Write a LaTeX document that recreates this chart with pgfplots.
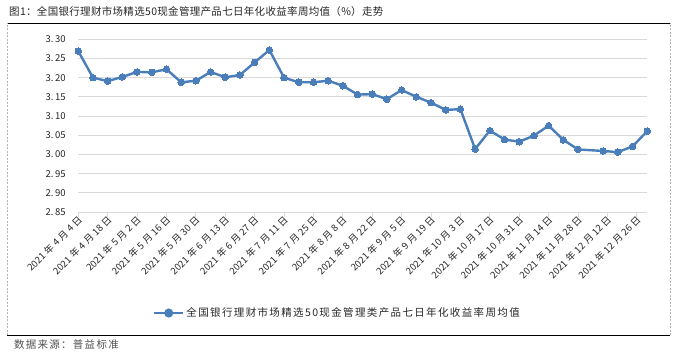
\documentclass[border=0pt]{standalone}
\usepackage{fontspec}
\setmainfont{Noto Sans CJK SC}
\newfontfamily\titlefont[LetterSpace=3]{Noto Sans CJK SC}
\newfontfamily\legfont[LetterSpace=13]{Noto Sans CJK SC}
\newfontfamily\srcfont[LetterSpace=12]{Noto Sans CJK SC}
\usepackage{pgfplots}
\pgfplotsset{compat=1.18}
\definecolor{series}{RGB}{74,126,187}
\definecolor{gridc}{RGB}{217,217,217}
\definecolor{txt}{RGB}{38,38,38}
\definecolor{srcc}{RGB}{80,80,80}
\newcommand\D[2]{2021\kern2.5pt年\kern2.5pt#1\kern2.5pt月\kern2.5pt#2\kern2.5pt日}
\begin{document}
\begin{tikzpicture}
\path[use as bounding box] (0,0) rectangle (677pt,359pt);
\node[anchor=west, inner sep=0pt, text=txt] at (9pt,347pt) {\titlefont\fontsize{10.5}{12}\selectfont 图1：全国银行理财市场精选50现金管理产品七日年化收益率周均值（\%）走势};
\draw[black, line width=1pt] (7pt,335.7pt) -- (670.3pt,335.7pt);
\draw[black, line width=1pt] (7pt,24pt) -- (670.3pt,24pt);
\draw[gray!60, line width=0.6pt, dash pattern=on 2pt off 1.5pt] (7pt,24pt) -- (7pt,335.7pt);
\draw[gray!60, line width=0.6pt, dash pattern=on 2pt off 1.5pt] (670.3pt,24pt) -- (670.3pt,335.7pt);
\node[anchor=west, inner sep=0pt, text=srcc] at (14pt,14pt) {\srcfont\fontsize{10.5}{12}\selectfont 数据来源：普益标准};
\begin{axis}[
  at={(78.3pt,147pt)}, anchor=south west,
  scale only axis, width=569pt, height=172.7pt,
  xmin=0, xmax=271, ymin=2.85, ymax=3.30,
  clip=false,
  axis x line*=bottom, axis y line*=left,
  y axis line style={draw=none},
  x axis line style={gridc, line width=0.8pt, -},
  ymajorgrids=true, grid style={gridc, line width=0.8pt},
  ytick={2.85,2.90,2.95,3.00,3.05,3.10,3.15,3.20,3.25,3.30},
  yticklabels={2.\,85,2.\,90,2.\,95,3.\,00,3.\,05,3.\,10,3.\,15,3.\,20,3.\,25,3.\,30},
  ytick style={draw=none},
  yticklabel style={font=\fontsize{9.5}{10}\selectfont, text=txt, xshift=-4pt},
  xtick={0,14,...,266},
  xticklabels={\D{4}{4},\D{4}{18},\D{5}{2},\D{5}{16},\D{5}{30},\D{6}{13},\D{6}{27},\D{7}{11},\D{7}{25},\D{8}{8},\D{8}{22},\D{9}{5},\D{9}{19},\D{10}{3},\D{10}{17},\D{10}{31},\D{11}{14},\D{11}{28},\D{12}{12},\D{12}{26}},
  xtick style={gridc, line width=0.8pt},
  tick align=outside, major tick length=5pt,
  xticklabel style={font=\fontsize{9.5}{10}\selectfont, text=txt, rotate=45, anchor=east, inner sep=1pt, yshift=-2pt, xshift=2pt},
  legend style={at={(0.131,-0.585)}, anchor=west, draw=none, fill=none, inner sep=0pt,
    font=\legfont\fontsize{10.5}{12}\selectfont, text=txt,
    /tikz/every even column/.append style={column sep=3pt}},
  legend cell align=left,
  legend image code/.code={\draw[#1, mark=none] (0pt,0pt) -- (29pt,0pt); \fill[series] (14.5pt,0pt) circle (3.3pt);},
]
\addplot[series, line width=2.4pt, mark=*, mark size=3.3pt, mark options={fill=series, draw=series, line width=0pt}]
coordinates {
(0,3.269)(7,3.200)(14,3.191)(21,3.202)(28,3.215)(35,3.214)(42,3.222)(49,3.188)(56,3.192)(63,3.215)
(70,3.201)(77,3.207)(84,3.240)(91,3.272)(98,3.200)(105,3.188)(112,3.188)(119,3.192)(126,3.179)(133,3.156)
(140,3.157)(147,3.144)(154,3.168)(161,3.150)(168,3.135)(175,3.116)(182,3.118)(189,3.014)(196,3.062)(203,3.039)
(210,3.033)(217,3.049)(224,3.075)(231,3.038)(238,3.013)(250,3.009)(257,3.006)(264,3.021)(271,3.061)
};
\addlegendentry{全国银行理财市场精选50现金管理类产品七日年化收益率周均值}
\end{axis}
\end{tikzpicture}
\end{document}
